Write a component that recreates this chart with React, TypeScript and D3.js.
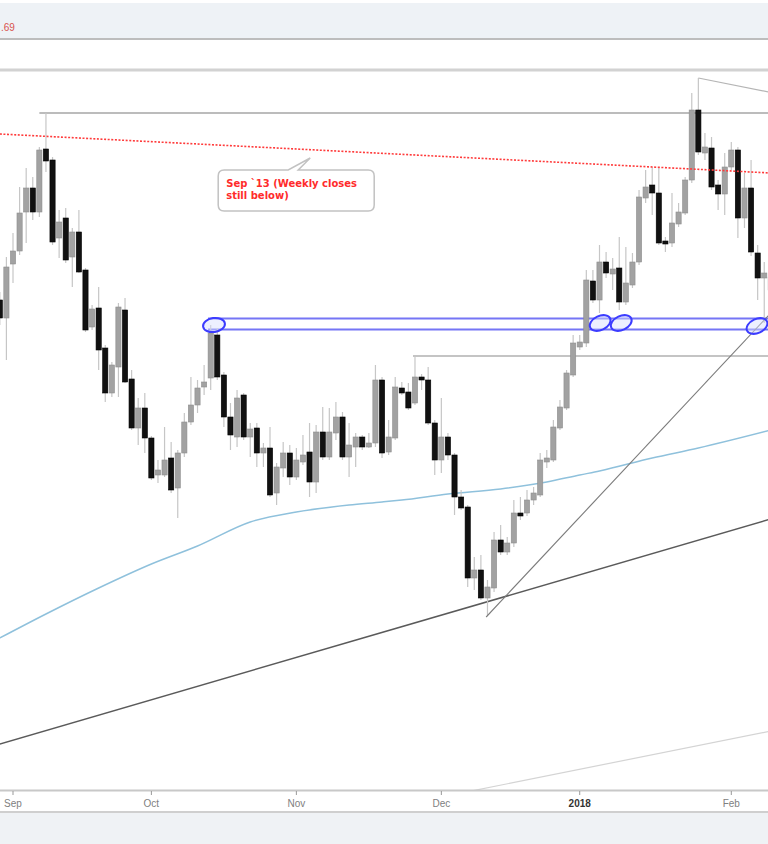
import React from "react";
import * as d3 from "d3";

const W = 768;
const H = 844;

// Daily bars starting Wed 30 Aug 2017 (weekdays only)
const startDate = new Date(2017, 7, 30);
const endDate = new Date(2018, 1, 10);

const opens = [
  0.7970, 0.7952, 0.8006, 0.8019, 0.8058, 0.8082, 0.8058, 0.8121, 0.8110, 0.8032,
  0.8052, 0.8013, 0.8038, 0.8000, 0.7943, 0.7962, 0.7922, 0.7877, 0.7903, 0.7960,
  0.7891, 0.7842, 0.7862, 0.7832, 0.7795, 0.7795, 0.7812, 0.7782, 0.7817, 0.7848,
  0.7865, 0.7883, 0.7892, 0.7935, 0.7895, 0.7853, 0.7833, 0.7875, 0.7833, 0.7842,
  0.7817, 0.7822, 0.7777, 0.7802, 0.7817, 0.7793, 0.7808, 0.7818, 0.7788, 0.7838,
  0.7813, 0.7837, 0.7853, 0.7813, 0.7823, 0.7833, 0.7823, 0.7827, 0.7890, 0.7818,
  0.7832, 0.7882, 0.7878, 0.7867, 0.7893, 0.7890, 0.7847, 0.7810, 0.7833, 0.7815,
  0.7773, 0.7763, 0.7692, 0.7700, 0.7672, 0.7682, 0.7730, 0.7718, 0.7727, 0.7757,
  0.7757, 0.7770, 0.7775, 0.7808, 0.7810, 0.7842, 0.7862, 0.7895, 0.7923, 0.7927,
  0.7989, 0.7970, 0.8008, 0.7996, 0.8002, 0.7968, 0.7985, 0.8008, 0.8072, 0.8085,
  0.8077, 0.8029, 0.8027, 0.8046, 0.8057, 0.8090, 0.8160, 0.8117, 0.8122, 0.8085,
  0.8076, 0.8103, 0.8120, 0.8052, 0.8082, 0.8017, 0.7992, 0.7993,
];
const highs = [
  0.7978, 0.8013, 0.8037, 0.8083, 0.8102, 0.8093, 0.8123, 0.8157, 0.8113, 0.8060,
  0.8062, 0.8042, 0.8060, 0.8002, 0.7965, 0.7983, 0.7925, 0.7908, 0.7967, 0.7972,
  0.7900, 0.7872, 0.7877, 0.7834, 0.7810, 0.7843, 0.7828, 0.7820, 0.7857, 0.7893,
  0.7890, 0.7905, 0.7945, 0.7942, 0.7898, 0.7867, 0.7880, 0.7877, 0.7847, 0.7847,
  0.7827, 0.7843, 0.7807, 0.7828, 0.7825, 0.7822, 0.7835, 0.7847, 0.7845, 0.7863,
  0.7862, 0.7868, 0.7858, 0.7847, 0.7837, 0.7835, 0.7837, 0.7905, 0.7893, 0.7850,
  0.7893, 0.7888, 0.7887, 0.7914, 0.7896, 0.7903, 0.7850, 0.7872, 0.7837, 0.7817,
  0.7780, 0.7765, 0.7713, 0.7715, 0.7690, 0.7738, 0.7745, 0.7733, 0.7770, 0.7773,
  0.7780, 0.7783, 0.7817, 0.7820, 0.7850, 0.7870, 0.7900, 0.7935, 0.7935, 0.8000,
  0.8000, 0.8025, 0.8018, 0.8012, 0.8033, 0.8023, 0.8017, 0.8080, 0.8100, 0.8103,
  0.8103, 0.8033, 0.8077, 0.8067, 0.8093, 0.8177, 0.8192, 0.8137, 0.8133, 0.8090,
  0.8117, 0.8128, 0.8123, 0.8097, 0.8110, 0.8025, 0.8008, 0.8000,
];
const lows = [
  0.7945, 0.7910, 0.7987, 0.8015, 0.8027, 0.8050, 0.8053, 0.8098, 0.8025, 0.8012,
  0.8007, 0.7983, 0.7997, 0.7938, 0.7940, 0.7900, 0.7868, 0.7873, 0.7873, 0.7887,
  0.7840, 0.7825, 0.7817, 0.7790, 0.7787, 0.7793, 0.7777, 0.7752, 0.7813, 0.7845,
  0.7857, 0.7875, 0.7880, 0.7890, 0.7843, 0.7820, 0.7823, 0.7830, 0.7813, 0.7803,
  0.7803, 0.7773, 0.7765, 0.7793, 0.7785, 0.7790, 0.7805, 0.7773, 0.7777, 0.7810,
  0.7810, 0.7830, 0.7810, 0.7793, 0.7803, 0.7820, 0.7822, 0.7823, 0.7812, 0.7815,
  0.7830, 0.7875, 0.7860, 0.7865, 0.7880, 0.7845, 0.7795, 0.7797, 0.7810, 0.7755,
  0.7760, 0.7683, 0.7680, 0.7670, 0.7655, 0.7678, 0.7715, 0.7715, 0.7723, 0.7750,
  0.7754, 0.7765, 0.7773, 0.7802, 0.7808, 0.7840, 0.7860, 0.7893, 0.7920, 0.7923,
  0.7967, 0.7957, 0.7992, 0.7980, 0.7960, 0.7965, 0.7982, 0.8005, 0.8067, 0.8055,
  0.8025, 0.8018, 0.8023, 0.8043, 0.8055, 0.8087, 0.8115, 0.8110, 0.8080, 0.8060,
  0.8055, 0.8100, 0.8032, 0.8042, 0.8014, 0.7970, 0.7947, 0.7970,
];
const closes = [
  0.7952, 0.8003, 0.8019, 0.8057, 0.8082, 0.8058, 0.8120, 0.8109, 0.8028, 0.8048,
  0.8010, 0.8038, 0.7998, 0.7940, 0.7961, 0.7920, 0.7877, 0.7905, 0.7963, 0.7888,
  0.7842, 0.7862, 0.7832, 0.7792, 0.7800, 0.7810, 0.7780, 0.7817, 0.7848, 0.7865,
  0.7882, 0.7888, 0.7937, 0.7893, 0.7853, 0.7835, 0.7872, 0.7833, 0.7841, 0.7817,
  0.7822, 0.7775, 0.7803, 0.7817, 0.7793, 0.7810, 0.7815, 0.7788, 0.7838, 0.7813,
  0.7838, 0.7853, 0.7813, 0.7825, 0.7833, 0.7823, 0.7827, 0.7890, 0.7817, 0.7833,
  0.7883, 0.7877, 0.7862, 0.7893, 0.7890, 0.7847, 0.7810, 0.7833, 0.7815, 0.7773,
  0.7762, 0.7692, 0.7700, 0.7672, 0.7683, 0.7730, 0.7718, 0.7727, 0.7757, 0.7754,
  0.7770, 0.7777, 0.7810, 0.7812, 0.7843, 0.7863, 0.7897, 0.7927, 0.7928, 0.7990,
  0.7970, 0.8008, 0.7997, 0.8001, 0.7968, 0.7987, 0.8008, 0.8073, 0.8083, 0.8077,
  0.8027, 0.8026, 0.8047, 0.8058, 0.8090, 0.8160, 0.8118, 0.8123, 0.8083, 0.8076,
  0.8103, 0.8120, 0.8052, 0.8082, 0.8018, 0.7992, 0.7997, 0.7980,
];

// 200-day moving average (bar number, value)
const maBars = [0, 7, 15, 23, 30, 38, 45, 53, 58, 61, 68, 76, 83, 88, 91, 99, 106, 117];
const maValues = [
  0.7632, 0.7656, 0.7682, 0.7706, 0.7724, 0.7748, 0.7758, 0.7765, 0.7768, 0.7770,
  0.7776, 0.7781, 0.7788, 0.7795, 0.7799, 0.7812, 0.7822, 0.7840,
];

// Horizontal levels: [start bar, price]
const sepHighLevel = [6.0, 0.8157];
const decHighLevel = [62.7, 0.7914];
const zoneStart = 31.6;
const zonePrices = [0.79515, 0.79405];

// Trendlines: [bar0, price0, bar1, price1]
const redTrend = [0, 0.8136, 117, 0.8097];
const janHighTrend = [106, 0.8192, 117, 0.81775];
const longTrend = [0, 0.7526, 117, 0.7751];
const decLowTrend = [73.8, 0.7653, 117, 0.7957];
const faintTrend = [67, 0.7473, 117, 0.7539];

// Circled touches of the zone: [bar, price]
const zoneTouches = [
  [32.5, 0.7945],
  [91.1, 0.7947],
  [94.3, 0.7947],
  [114.9, 0.7944],
];
const touchTilt = [-8, -25, -25, -25];

const calloutTip = [47.1, 0.8112];
const calloutLines = ["Sep `13 (Weekly closes", "still below)"];
const topLabel = ".69";

export default function App() {
  const dates = d3
    .timeDay.range(startDate, endDate)
    .filter((d) => d.getDay() !== 0 && d.getDay() !== 6)
    .slice(0, opens.length);

  const plotTop = 72;
  const plotBottom = 790;

  const x = d3.scaleLinear().domain([2, 111]).range([13, 731.3]);
  const y = d3.scaleLinear().domain([0.748, 0.82]).range([790, 70]);

  const monthTicks: { k: number; label: string; bold: boolean }[] = [];
  dates.forEach((d, k) => {
    if (k > 0 && d.getMonth() !== dates[k - 1].getMonth()) {
      const isYear = d.getMonth() === 0;
      monthTicks.push({
        k,
        label: isYear ? d3.timeFormat("%Y")(d) : d3.timeFormat("%b")(d),
        bold: isYear,
      });
    }
  });

  const maLine = d3
    .line<number>()
    .x((_, i) => x(maBars[i]))
    .y((v) => y(v))
    .curve(d3.curveMonotoneX)(maValues) as string;

  const seg = (t: number[]) => ({
    x1: x(t[0]),
    y1: y(t[1]),
    x2: x(t[2]),
    y2: y(t[3]),
  });

  const tipX = x(calloutTip[0]);
  const tipY = y(calloutTip[1]);
  const bx0 = tipX - 92;
  const by0 = tipY + 12;
  const bx1 = tipX + 64;
  const by1 = tipY + 53;
  const r = 6;
  const calloutPath = [
    `M${bx0 + r},${by0}`,
    `L${tipX - 22},${by0}`,
    `L${tipX},${tipY}`,
    `L${tipX - 12},${by0}`,
    `L${bx1 - r},${by0}`,
    `Q${bx1},${by0} ${bx1},${by0 + r}`,
    `L${bx1},${by1 - r}`,
    `Q${bx1},${by1} ${bx1 - r},${by1}`,
    `L${bx0 + r},${by1}`,
    `Q${bx0},${by1} ${bx0},${by1 - r}`,
    `L${bx0},${by0 + r}`,
    `Q${bx0},${by0} ${bx0 + r},${by0}`,
    "Z",
  ].join(" ");

  const rightEdge = x(117);

  return (
    <svg
      width={W}
      height={H}
      style={{ position: "absolute", left: 0, top: 0, background: "#fff" }}
      fontFamily="'Liberation Sans', Arial, sans-serif"
    >
      <defs>
        <clipPath id="plot">
          <rect x={0} y={plotTop} width={W} height={plotBottom - plotTop} />
        </clipPath>
      </defs>

      {/* header */}
      <rect x={0} y={3} width={W} height={35} fill="#eef2f6" />
      <rect x={0} y={38} width={W} height={2} fill="#bdbdbd" />
      <rect x={0} y={68.5} width={W} height={3} fill="#d2d2d2" />
      <text x={1} y={31} fontSize={10} fill="#d9534f">
        {topLabel}
      </text>

      <g clipPath="url(#plot)">
        {/* faint & long trendlines */}
        <line {...seg(faintTrend)} stroke="#d4d4d4" strokeWidth={1.2} />
        <line {...seg(longTrend)} stroke="#5a5a5a" strokeWidth={1.5} />

        {/* moving average */}
        <path d={maLine} fill="none" stroke="#8fc1dc" strokeWidth={1.5} />

        {/* horizontal levels */}
        <line
          x1={x(sepHighLevel[0])}
          x2={rightEdge}
          y1={y(sepHighLevel[1])}
          y2={y(sepHighLevel[1])}
          stroke="#bcbcbc"
          strokeWidth={2}
        />
        <line
          x1={x(decHighLevel[0])}
          x2={rightEdge}
          y1={y(decHighLevel[1])}
          y2={y(decHighLevel[1])}
          stroke="#b0b0b0"
          strokeWidth={1.5}
        />
        <line {...seg(janHighTrend)} stroke="#b5b5b5" strokeWidth={1.2} />

        {/* zone */}
        {zonePrices.map((p, i) => (
          <line
            key={i}
            x1={x(zoneStart)}
            x2={rightEdge}
            y1={y(p)}
            y2={y(p)}
            stroke="#7575f5"
            strokeWidth={2}
          />
        ))}

        {/* candles */}
        {opens.map((o, k) => {
          const c = closes[k];
          const up = c >= o;
          const cx = x(k);
          const yt = y(Math.max(o, c));
          const yb = y(Math.min(o, c));
          return (
            <g key={k}>
              <line
                x1={cx}
                x2={cx}
                y1={y(highs[k])}
                y2={y(lows[k])}
                stroke="#c6c6c6"
                strokeWidth={1.2}
              />
              <rect
                x={cx - 2.6}
                y={yt}
                width={5.2}
                height={Math.max(1.5, yb - yt)}
                fill={up ? "#a2a2a2" : "#111"}
                stroke={up ? "#8e8e8e" : "#000"}
                strokeWidth={0.6}
              />
            </g>
          );
        })}

        {/* Dec low trendline */}
        <line {...seg(decLowTrend)} stroke="#7a7a7a" strokeWidth={1.1} />

        {/* red dotted resistance */}
        <line
          {...seg(redTrend)}
          stroke="#ff3b3b"
          strokeWidth={1.6}
          strokeDasharray="2,1.6"
        />

        {/* circled touches */}
        {zoneTouches.map(([b, p], i) => (
          <ellipse
            key={i}
            cx={x(b)}
            cy={y(p)}
            rx={11}
            ry={7}
            fill="rgba(215,222,255,0.45)"
            stroke="#3c3cff"
            strokeWidth={2}
            transform={`rotate(${touchTilt[i]} ${x(b)} ${y(p)})`}
          />
        ))}

        {/* callout */}
        <path d={calloutPath} fill="#fff" stroke="#c2c2c2" strokeWidth={1.5} />
        {calloutLines.map((t, i) => (
          <text
            key={i}
            x={bx0 + 8}
            y={by0 + 17 + i * 12}
            fontSize={10}
            fontWeight="bold"
            fontFamily="'DejaVu Sans', Verdana, sans-serif"
            fill="#ff2b2b"
          >
            {t}
          </text>
        ))}
      </g>

      {/* x axis */}
      <rect x={0} y={789.5} width={W} height={2} fill="#c8c8c8" />
      {monthTicks.map((t) => (
        <g key={t.k}>
          <line
            x1={x(t.k)}
            x2={x(t.k)}
            y1={791}
            y2={795}
            stroke="#999"
            strokeWidth={1}
          />
          <text
            x={x(t.k)}
            y={807}
            textAnchor="middle"
            fontSize={10}
            fontFamily="'Liberation Sans Narrow', 'Liberation Sans', Arial, sans-serif"
            fill={t.bold ? "#333" : "#808080"}
            fontWeight={t.bold ? "bold" : "normal"}
          >
            {t.label}
          </text>
        </g>
      ))}
      <rect x={0} y={811} width={W} height={2} fill="#cfcfcf" />
      <rect x={0} y={813} width={W} height={H - 813} fill="#eff2f5" />
    </svg>
  );
}
